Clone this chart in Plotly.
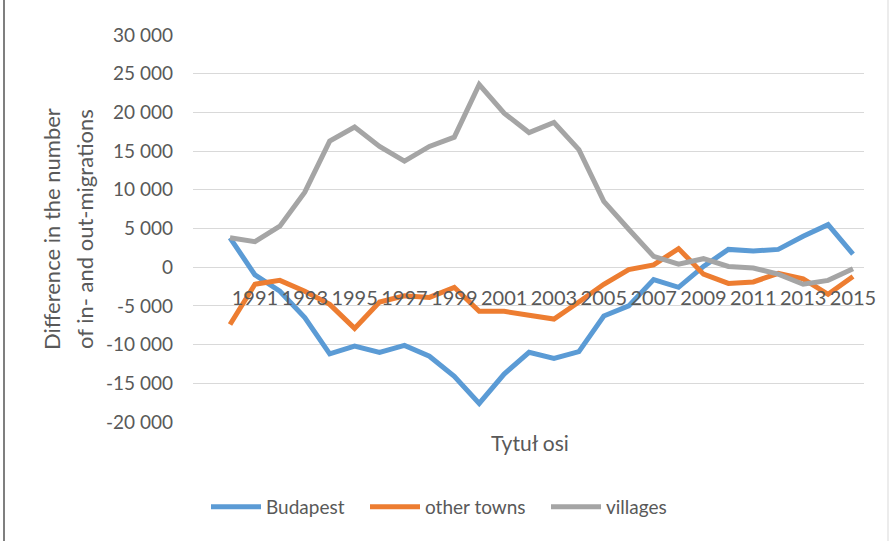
import plotly.graph_objects as go

years = list(range(1990, 2016))
budapest = [3800, -1000, -3100, -6500, -11200, -10200, -11000, -10100, -11500, -14100,
            -17600, -13800, -11000, -11800, -10900, -6300, -5000, -1600, -2600, 100,
            2300, 2100, 2300, 4000, 5500, 1700]
other_towns = [-7400, -2200, -1700, -3100, -4800, -7900, -4500, -3700, -3900, -2600,
               -5700, -5700, -6200, -6700, -4500, -2200, -300, 300, 2400, -900,
               -2100, -1900, -800, -1500, -3500, -1200]
villages = [3800, 3300, 5300, 9700, 16300, 18100, 15600, 13700, 15600, 16800,
            23600, 19900, 17400, 18700, 15200, 8500, 4900, 1400, 400, 1100,
            100, -100, -900, -2200, -1700, -200]

x_tick_vals = list(range(1991, 2016, 2))
x_tick_text = [str(v) for v in x_tick_vals]
y_tick_vals = [-20000, -15000, -10000, -5000, 0, 5000, 10000, 15000, 20000, 25000, 30000]
y_tick_text = ["-20 000", "-15 000", "-10 000", "-5 000", "0", "5 000", "10 000",
               "15 000", "20 000", "25 000", "30 000"]

series_names = ["Budapest", "other towns", "villages"]
series_colors = ["#5B9BD5", "#ED7D31", "#A5A5A5"]

W, H = 894, 541
L, R, T, B = 193, 864, 35, 422
FONT = "Lato"
GREY = "#595959"

def px_x(p):
    return (p - L) / (R - L)

def px_y(p):
    return (B - p) / (B - T)

legend_ids = ["legend", "legend2", "legend3"]
legend_left_px = [206, 365, 546]

fig = go.Figure()
for name, vals, col, lid in zip(series_names, [budapest, other_towns, villages],
                                series_colors, legend_ids):
    fig.add_trace(go.Scatter(x=years, y=vals, name=name, mode="lines", legend=lid,
                             line=dict(color=col, width=5)))

legend_common = dict(orientation="h", y=px_y(507), xanchor="left", yanchor="middle",
                     font=dict(size=19, color=GREY), itemwidth=50,
                     bgcolor="rgba(0,0,0,0)")

fig.update_layout(
    width=W, height=H,
    margin=dict(l=L, r=W - R, t=T, b=H - B),
    paper_bgcolor="white", plot_bgcolor="white",
    font=dict(family=FONT, size=19, color=GREY),
    showlegend=True,
    legend=dict(x=px_x(legend_left_px[0]), **legend_common),
    legend2=dict(x=px_x(legend_left_px[1]), **legend_common),
    legend3=dict(x=px_x(legend_left_px[2]), **legend_common),
    xaxis=dict(range=[1990 - 37 / 24.9, 2015 + 11 / 24.9], tickmode="array",
               tickvals=x_tick_vals, ticktext=x_tick_text, tickangle=0,
               showgrid=False, zeroline=False, showline=False, ticks="",
               anchor="free", position=0.4, ticklabelstandoff=17,
               tickfont=dict(size=20, color=GREY)),
    yaxis=dict(range=[-20000, 30000], tickmode="array", tickvals=y_tick_vals,
               ticktext=y_tick_text, showgrid=True, gridcolor="#D9D9D9", gridwidth=1.3,
               zeroline=False, showline=False, ticks="", ticklabelstandoff=19,
               tickfont=dict(size=19, color=GREY)),
)

fig.add_annotation(text="Difference in the number", xref="paper", yref="paper",
                   x=px_x(52), y=px_y(229), textangle=-90, showarrow=False,
                   xanchor="center", yanchor="middle", font=dict(size=22, color=GREY))
fig.add_annotation(text="of in- and out-migrations", xref="paper", yref="paper",
                   x=px_x(85), y=px_y(229), textangle=-90, showarrow=False,
                   xanchor="center", yanchor="middle", font=dict(size=22, color=GREY))
fig.add_annotation(text="Tytuł osi", xref="paper", yref="paper",
                   x=px_x(530), y=px_y(442), showarrow=False,
                   xanchor="center", yanchor="middle", font=dict(size=21, color=GREY))

fig.add_shape(type="line", xref="paper", yref="paper", x0=px_x(4), x1=px_x(4),
              y0=px_y(0), y1=px_y(541), line=dict(color="#7F7F7F", width=2))
fig.add_shape(type="line", xref="paper", yref="paper", x0=px_x(888), x1=px_x(888),
              y0=px_y(0), y1=px_y(541), line=dict(color="#D9D9D9", width=1))

fig.write_html("out.html", config={"displayModeBar": False},
               post_script="document.body.style.margin='0';")
